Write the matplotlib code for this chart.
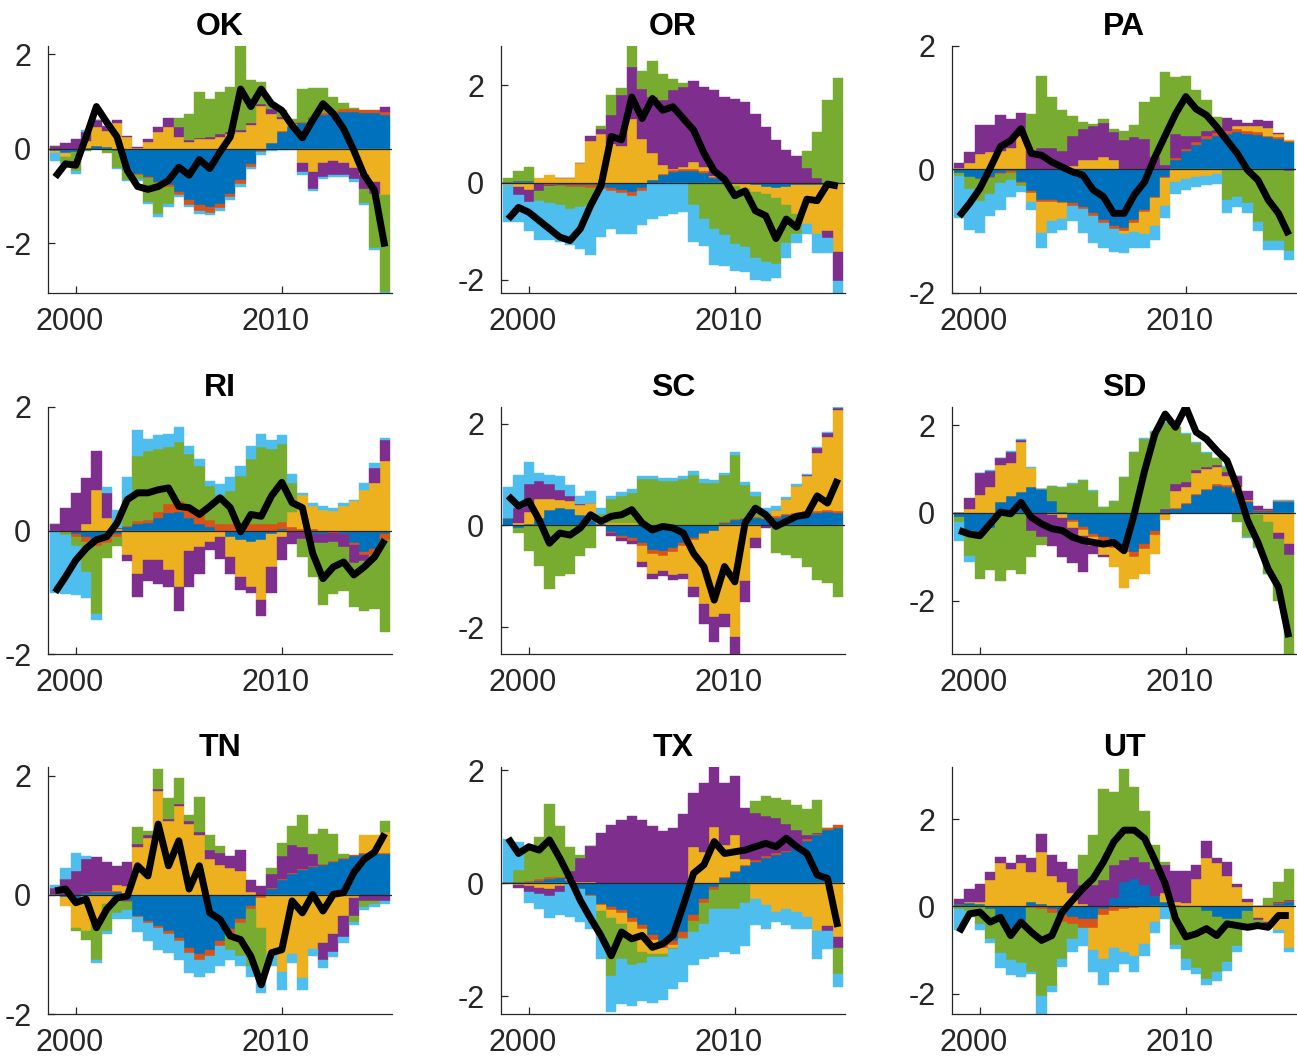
import matplotlib
matplotlib.use("Agg")
import matplotlib.pyplot as plt
from matplotlib.transforms import ScaledTranslation
import numpy as np

plt.rcParams['font.family'] = ['Liberation Sans', 'DejaVu Sans']
plt.rcParams['axes.unicode_minus'] = False

# half-yearly observations, 1999 to 2015
periods = np.arange(1999.0, 2015.01, 0.5)

# shock colours in stacking order (closest to zero first)
shock_colors = ['#0072BD', '#D95319', '#EDB120', '#7E2F8E', '#77AC30', '#4DBEEE']

# ---------------- OK ----------------
OK_blue = [-0.05, -0.10, -0.08, 0.02, 0.05, 0.03, -0.05, -0.45, -0.53, -0.60, -0.70,
           -0.77, -0.91, -1.09, -1.19, -1.23, -1.16, -0.95, -0.67, -0.32, -0.05, 0.12,
           0.35, 0.45, 0.55, 0.65, 0.72, 0.75, 0.78, 0.78, 0.76, 0.76, 0.72]
OK_red = [0.00, 0.00, 0.00, 0.00, 0.00, 0.00, 0.00, -0.01, -0.02, -0.02, -0.03,
          -0.05, -0.07, -0.10, -0.12, -0.12, -0.10, -0.08, -0.08, -0.06, -0.03, 0.01,
          0.02, 0.02, 0.02, 0.03, 0.04, 0.05, 0.05, 0.05, 0.05, 0.05, 0.05]
OK_yellow = [-0.05, -0.08, 0.00, 0.15, 0.40, 0.35, 0.55, 0.25, 0.02, 0.15, 0.35,
             0.45, 0.25, 0.15, 0.20, 0.20, 0.25, 0.30, 0.35, 0.50, 0.90, 0.60,
             0.25, 0.05, -0.30, -0.50, -0.30, -0.25, -0.30, -0.40, -0.55, -0.70, -0.98]
OK_purple = [0.05, 0.12, 0.20, 0.18, 0.15, 0.10, 0.05, 0.02, 0.02, 0.05, 0.10,
             0.20, 0.20, 0.03, 0.03, 0.05, 0.05, 0.05, 0.05, 0.05, 0.05, 0.10,
             0.05, 0.03, -0.20, -0.35, -0.30, -0.30, -0.25, -0.25, -0.30, -0.25, 0.12]
OK_green = [0.00, -0.10, -0.40, -0.05, 0.00, -0.10, -0.35, -0.20, -0.10, -0.50, -0.65,
            -0.35, 0.20, 0.55, 0.97, 0.80, 0.90, 0.95, 1.77, 0.90, 0.45, 0.13,
            0.15, 0.07, 0.70, 0.60, 0.53, 0.30, 0.13, 0.03, -0.30, -1.15, -2.05]
OK_lblue = [-0.15, -0.05, -0.05, 0.05, 0.00, 0.00, -0.02, -0.03, -0.03, -0.05, -0.06,
            -0.06, -0.05, -0.05, -0.08, -0.06, -0.06, -0.06, -0.05, -0.05, -0.05, -0.05,
            -0.03, -0.03, -0.05, -0.05, -0.04, -0.04, -0.04, -0.05, -0.05, -0.05, -0.02]
OK_total = [-0.60, -0.32, -0.35, 0.25, 0.89, 0.56, 0.25, -0.46, -0.80, -0.86, -0.80,
            -0.67, -0.39, -0.56, -0.23, -0.42, -0.07, 0.25, 1.26, 0.89, 1.26, 0.95,
            0.81, 0.49, 0.23, 0.60, 0.95, 0.74, 0.42, -0.04, -0.56, -0.88, -2.07]

# ---------------- OR ----------------
OR_blue = [0.02, 0.03, 0.03, -0.02, -0.03, -0.04, -0.05, -0.05, -0.05, -0.08, -0.12,
           -0.15, -0.20, -0.12, 0.05, 0.15, 0.22, 0.24, 0.24, 0.20, 0.10, 0.03,
           -0.02, -0.03, -0.05, -0.08, -0.12, -0.10, -0.05, -0.05, -0.05, -0.04, -0.03]
OR_red = [0.00, 0.00, 0.00, -0.01, -0.02, -0.03, -0.04, -0.05, -0.06, -0.06, -0.06,
          -0.06, -0.07, -0.05, -0.02, 0.02, 0.03, 0.03, 0.03, 0.03, 0.02, 0.00,
          0.00, 0.00, 0.00, 0.00, 0.00, 0.00, 0.00, 0.00, 0.00, 0.00, 0.00]
OR_yellow = [-0.05, -0.10, -0.15, 0.10, 0.15, 0.10, 0.10, 0.40, 0.85, 1.00, 0.80,
             0.75, 1.30, 0.90, 0.55, 0.20, 0.02, 0.05, 0.15, 0.10, 0.02, -0.02,
             -0.05, -0.10, -0.15, -0.15, -0.20, -0.35, -0.60, -0.80, -1.00, -0.95, -1.39]
OR_purple = [0.00, -0.15, -0.25, -0.15, -0.02, 0.00, 0.00, 0.00, 0.10, 0.10, 0.60,
             1.05, 1.07, 1.03, 1.16, 1.32, 1.63, 1.65, 1.67, 1.63, 1.76, 1.73,
             1.72, 1.66, 1.42, 1.15, 0.88, 0.68, 0.54, 0.30, 0.10, -0.15, -0.60]
OR_green = [0.08, 0.20, 0.30, -0.20, -0.35, -0.40, -0.45, -0.40, -0.35, 0.07, 0.40,
            0.15, 0.44, 0.37, 0.74, 0.55, 0.24, 0.07, -0.47, -0.75, -0.95, -1.05,
            -1.20, -1.20, -1.35, -1.40, -1.35, -0.80, -0.40, 0.35, 0.95, 1.70, 2.15]
OR_lblue = [-0.75, -0.55, -0.60, -0.80, -0.77, -0.75, -0.75, -0.86, -1.03, -0.98, -0.77,
            -0.84, -0.78, -0.71, -0.73, -0.68, -0.64, -0.61, -0.75, -0.55, -0.75, -0.65,
            -0.55, -0.50, -0.45, -0.40, -0.30, -0.30, -0.20, -0.20, -0.40, -0.30, -0.24]
OR_total = [-0.75, -0.51, -0.61, -0.78, -0.95, -1.12, -1.19, -0.95, -0.47, -0.07, 0.95,
            0.88, 1.76, 1.32, 1.73, 1.49, 1.56, 1.32, 1.08, 0.61, 0.24, 0.07,
            -0.27, -0.17, -0.58, -0.68, -1.15, -0.75, -0.92, -0.34, -0.37, -0.03, -0.07]

# ---------------- PA ----------------
PA_blue = [-0.05, -0.12, -0.15, -0.12, -0.05, -0.03, -0.20, -0.35, -0.50, -0.50, -0.52,
           -0.55, -0.60, -0.71, -0.82, -0.92, -0.95, -0.82, -0.66, -0.44, -0.12, 0.15,
           0.30, 0.40, 0.50, 0.55, 0.58, 0.60, 0.58, 0.56, 0.52, 0.50, 0.45]
PA_red = [0.00, 0.00, -0.01, -0.02, -0.02, -0.02, -0.02, -0.03, -0.03, -0.03, -0.03,
          -0.04, -0.04, -0.04, -0.05, -0.05, -0.05, -0.04, -0.03, -0.02, -0.02, 0.04,
          0.04, 0.04, 0.04, 0.04, 0.05, 0.05, 0.05, 0.04, 0.03, 0.02, 0.01]
PA_yellow = [0.02, 0.10, 0.25, 0.28, 0.30, 0.35, 0.55, -0.15, -0.50, -0.30, -0.25,
             0.05, 0.15, 0.15, 0.20, 0.15, -0.05, -0.15, -0.35, -0.45, -0.45, -0.20,
             -0.15, -0.12, -0.10, -0.08, 0.00, 0.05, 0.08, 0.10, 0.12, 0.05, 0.01]
PA_purple = [0.08, 0.18, 0.47, 0.44, 0.58, 0.47, 0.36, 0.30, 0.35, 0.35, 0.30,
             0.50, 0.50, 0.55, 0.55, 0.45, 0.47, 0.53, 0.50, 0.20, 0.08, 0.39,
             0.20, 0.10, 0.08, 0.05, 0.20, 0.10, 0.05, 0.10, 0.12, 0.02, -0.02]
PA_green = [-0.05, -0.20, -0.35, -0.25, -0.15, -0.12, -0.05, 0.60, 1.17, 0.82, 0.66,
            0.32, 0.12, 0.04, 0.07, 0.05, 0.16, 0.19, 0.59, 0.97, 1.50, 0.91,
            0.98, 0.74, 0.50, 0.21, -0.50, -0.45, -0.55, -0.85, -1.15, -1.15, -1.30]
PA_lblue = [-0.69, -0.66, -0.52, -0.37, -0.44, -0.27, -0.10, -0.13, -0.24, -0.20, -0.18,
            -0.25, -0.39, -0.44, -0.40, -0.36, -0.30, -0.26, -0.23, -0.23, -0.20, -0.19,
            -0.18, -0.16, -0.15, -0.15, -0.20, -0.15, -0.15, -0.15, -0.15, -0.15, -0.15]
PA_total = [-0.76, -0.55, -0.31, 0.02, 0.37, 0.47, 0.66, 0.26, 0.23, 0.12, 0.04,
            -0.04, -0.09, -0.33, -0.44, -0.71, -0.71, -0.41, -0.20, 0.20, 0.55, 0.90,
            1.18, 0.98, 0.88, 0.69, 0.47, 0.26, -0.01, -0.17, -0.49, -0.71, -1.06]

# ---------------- RI ----------------
RI_blue = [-0.01, -0.01, -0.05, -0.10, -0.15, -0.10, -0.05, 0.05, 0.10, 0.12, 0.20,
           0.28, 0.30, 0.20, 0.10, 0.05, -0.02, -0.10, -0.15, -0.18, -0.15, -0.05,
           0.03, -0.02, -0.03, -0.05, -0.05, -0.03, -0.05, -0.20, -0.35, -0.30, -0.05]
RI_red = [0.00, -0.02, -0.05, -0.08, -0.10, -0.10, -0.05, 0.02, 0.05, 0.05, 0.10,
          0.15, 0.18, 0.17, 0.15, 0.12, 0.10, 0.10, 0.10, 0.10, 0.10, 0.10,
          0.10, 0.05, 0.03, 0.02, -0.01, -0.01, -0.01, -0.03, -0.05, -0.10, -0.10]
RI_yellow = [0.00, 0.00, 0.00, 0.10, 0.65, 0.20, 0.02, -0.40, -0.70, -0.48, -0.48,
             -0.64, -0.92, -0.34, -0.26, -0.18, -0.08, -0.33, -0.60, -0.74, -0.98, -0.54,
             -0.10, 0.25, 0.55, 0.38, 0.33, 0.31, 0.39, 0.47, 0.66, 0.77, 1.13]
RI_purple = [0.10, 0.37, 0.60, 0.75, 0.64, 0.40, 0.02, -0.10, -0.38, -0.33, -0.38,
             -0.28, -0.38, -0.58, -0.44, -0.14, -0.36, -0.27, -0.22, -0.10, -0.25, -0.43,
             -0.38, -0.20, -0.10, -0.15, -0.15, -0.15, -0.20, -0.30, -0.10, 0.25, 0.33]
RI_green = [0.00, -0.05, -0.15, -0.50, -1.10, -0.25, -0.15, 0.43, 1.06, 1.12, 1.02,
            0.92, 0.95, 0.87, 0.80, 0.55, 0.48, 0.54, 0.78, 1.06, 1.25, 1.22,
            1.27, 0.47, -0.30, -0.55, -0.99, -0.84, -0.72, -0.71, -0.80, -0.87, -1.50]
RI_lblue = [-1.00, -0.95, -0.80, -0.42, -0.10, 0.10, 0.30, 0.36, 0.41, 0.19, 0.22,
            0.21, 0.24, 0.13, 0.11, 0.08, 0.17, 0.22, 0.17, 0.21, 0.21, 0.14,
            0.14, 0.14, 0.03, 0.05, 0.06, 0.06, 0.06, 0.03, 0.11, 0.08, 0.04]
RI_total = [-1.00, -0.75, -0.48, -0.29, -0.15, -0.10, 0.12, 0.50, 0.61, 0.61, 0.66,
            0.69, 0.39, 0.37, 0.26, 0.39, 0.53, 0.37, -0.02, 0.26, 0.23, 0.56,
            0.78, 0.45, 0.37, -0.37, -0.78, -0.59, -0.51, -0.72, -0.59, -0.43, -0.15]

# ---------------- SC ----------------
SC_blue = [0.15, -0.05, 0.02, 0.15, 0.30, 0.35, 0.33, 0.20, 0.10, 0.02, -0.12,
           -0.20, -0.25, -0.35, -0.48, -0.50, -0.45, -0.35, -0.25, -0.15, -0.10, 0.05,
           0.10, 0.12, 0.15, 0.12, 0.15, 0.20, 0.22, 0.25, 0.25, 0.27, 0.25]
SC_red = [0.00, 0.00, 0.00, 0.00, 0.00, 0.00, 0.00, 0.00, 0.00, -0.02, -0.03,
          -0.05, -0.06, -0.06, -0.08, -0.10, -0.08, -0.05, -0.03, -0.02, 0.00, 0.02,
          0.02, 0.02, 0.02, 0.02, 0.03, 0.03, 0.03, 0.03, 0.03, 0.03, 0.03]
SC_yellow = [0.00, 0.05, 0.25, 0.36, 0.21, 0.15, 0.15, 0.20, 0.35, 0.10, 0.05,
             0.05, 0.05, -0.30, -0.39, -0.30, -0.45, -0.55, -0.93, -1.37, -1.70, -1.74,
             -2.20, -1.10, -0.25, 0.00, 0.13, 0.28, 0.52, 0.69, 1.15, 1.43, 2.00]
SC_purple = [0.00, 0.30, 0.55, 0.36, 0.30, 0.20, 0.10, 0.03, 0.00, 0.00, -0.05,
             -0.05, -0.05, -0.10, -0.10, -0.10, -0.10, -0.10, -0.20, -0.40, -0.50, -0.25,
             -0.33, -0.40, -0.20, -0.05, 0.00, 0.00, 0.01, 0.03, 0.10, 0.08, 0.03]
SC_green = [0.00, -0.10, -0.50, -0.80, -1.25, -1.00, -0.95, -0.60, -0.45, 0.10, 0.46,
            0.53, 0.59, 0.91, 0.91, 0.87, 0.87, 0.91, 1.00, 0.84, 0.84, 0.92,
            1.27, 0.65, 0.41, 0.10, -0.55, -0.58, -0.65, -0.81, -1.08, -1.14, -1.41]
SC_lblue = [0.60, 0.65, 0.42, 0.17, 0.19, 0.27, 0.22, 0.15, 0.22, 0.13, 0.07,
            0.07, 0.07, 0.07, 0.07, 0.07, 0.07, 0.07, 0.07, 0.07, 0.05, 0.05,
            0.05, 0.07, 0.07, 0.10, 0.07, 0.05, 0.03, 0.02, 0.02, 0.02, 0.02]
SC_total = [0.58, 0.38, 0.48, 0.11, -0.35, -0.15, -0.19, -0.05, 0.21, 0.08, 0.18,
            0.21, 0.31, 0.05, -0.09, -0.02, -0.05, -0.15, -0.55, -0.81, -1.47, -0.81,
            -1.11, 0.05, 0.34, 0.21, -0.02, 0.08, 0.18, 0.21, 0.58, 0.44, 0.91]

# ---------------- SD ----------------
SD_blue = [-0.10, -0.40, -0.50, -0.35, 0.24, 0.39, 0.47, 0.58, 0.55, 0.28, 0.02,
           -0.17, -0.33, -0.48, -0.55, -0.70, -0.78, -0.90, -0.70, -0.40, 0.05, 0.10,
           0.20, 0.40, 0.52, 0.62, 0.60, 0.45, 0.25, 0.05, 0.05, 0.25, 0.25]
SD_red = [0.00, 0.00, 0.00, 0.00, 0.00, 0.00, 0.00, 0.00, 0.00, 0.00, -0.02,
          -0.03, -0.05, -0.07, -0.08, -0.10, -0.10, -0.10, -0.12, -0.10, -0.05, 0.01,
          0.02, 0.03, 0.03, 0.03, 0.04, 0.04, 0.02, 0.01, 0.01, 0.02, 0.02]
SD_yellow = [0.00, 0.10, 0.40, 0.60, 0.85, 0.75, 1.15, 0.45, 0.00, -0.05, -0.10,
             -0.15, -0.15, -0.20, -0.32, -0.44, -0.82, -0.50, -0.57, -0.43, -0.10, 0.39,
             0.38, 0.47, 0.45, 0.40, 0.20, 0.10, 0.03, -0.05, -0.20, -0.45, -0.70]
SD_purple = [0.00, 0.25, 0.50, 0.35, 0.15, 0.25, 0.05, -0.40, -0.55, -0.70, -0.88,
             -0.79, -0.82, -0.18, -0.05, 0.00, 0.00, 0.00, 0.00, 0.00, 0.05, 0.15,
             0.10, 0.08, 0.05, 0.05, 0.10, 0.25, 0.20, 0.10, 0.02, -0.15, -0.25]
SD_green = [-0.10, -0.57, -1.00, -0.96, -1.54, -1.31, -1.39, -0.60, -0.19, 0.34, 0.56,
            0.66, 0.74, 0.51, 0.13, 0.28, 0.81, 1.38, 1.68, 1.85, 1.95, 1.30,
            1.10, 0.62, 0.32, 0.15, 0.11, -0.20, -0.55, -0.73, -1.19, -1.40, -2.26]
SD_lblue = [-0.45, -0.15, 0.01, 0.02, 0.02, 0.02, 0.02, 0.02, 0.00, 0.00, 0.01,
            0.01, 0.01, 0.01, 0.00, 0.00, 0.00, 0.01, 0.02, 0.02, 0.02, 0.01,
            0.01, 0.01, 0.01, 0.01, 0.01, 0.00, -0.01, -0.01, -0.01, 0.02, 0.02]
SD_total = [-0.40, -0.48, -0.52, -0.25, 0.02, -0.02, 0.24, -0.10, -0.25, -0.36, -0.40,
            -0.55, -0.63, -0.67, -0.71, -0.67, -0.86, -0.02, 0.96, 1.80, 2.25, 1.95,
            2.41, 1.84, 1.68, 1.42, 1.19, 0.58, -0.17, -0.67, -1.28, -1.69, -2.83]

# ---------------- TN ----------------
TN_blue = [0.02, -0.03, -0.10, 0.03, 0.05, 0.05, 0.05, -0.10, -0.35, -0.44, -0.52,
           -0.61, -0.72, -0.89, -1.00, -0.92, -0.78, -0.58, -0.41, -0.19, -0.02, 0.10,
           0.25, 0.35, 0.42, 0.47, 0.50, 0.55, 0.60, 0.65, 0.68, 0.68, 0.68]
TN_red = [0.00, 0.00, 0.00, 0.01, 0.02, 0.02, 0.02, -0.01, -0.02, -0.03, -0.04,
          -0.05, -0.06, -0.08, -0.10, -0.10, -0.08, -0.07, -0.06, -0.05, -0.03, 0.01,
          0.01, 0.02, 0.02, 0.02, 0.02, 0.02, 0.02, 0.02, 0.02, 0.02, 0.02]
TN_yellow = [0.00, -0.15, -0.45, -0.60, -0.45, -0.15, 0.10, 0.15, 0.80, 0.95, 1.75,
             1.25, 1.50, 1.20, 1.00, 0.60, 0.50, 0.45, 0.40, 0.05, -0.50, -1.00,
             -1.30, -1.00, -1.40, -0.90, -0.80, -0.65, -0.35, -0.05, 0.30, 0.30, 0.35]
TN_purple = [0.10, 0.26, 0.41, 0.56, 0.56, 0.48, 0.31, 0.40, 0.05, 0.05, 0.03,
             0.03, 0.03, 0.05, 0.05, 0.15, 0.20, 0.20, 0.35, 0.20, 0.15, 0.25,
             0.40, 0.47, 0.36, 0.20, -0.30, -0.30, -0.35, -0.30, -0.10, -0.10, -0.10]
TN_green = [0.00, 0.00, -0.05, -0.15, -0.65, -0.45, -0.30, -0.15, 0.30, 0.08, 0.34,
            0.35, 0.43, 0.10, 0.60, 0.25, 0.12, -0.27, -0.55, -0.95, -0.90, 0.10,
            0.22, 0.32, 0.54, 0.34, 0.59, 0.46, 0.07, -0.10, -0.10, -0.05, 0.20]
TN_lblue = [0.05, 0.20, 0.30, 0.05, -0.05, -0.05, -0.10, -0.15, -0.25, -0.31, -0.36,
            -0.31, -0.31, -0.34, -0.27, -0.29, -0.34, -0.17, -0.18, -0.18, -0.20, -0.20,
            -0.30, -0.15, -0.20, -0.12, -0.12, -0.10, -0.10, -0.05, -0.05, -0.05, -0.05]
TN_total = [0.07, 0.10, -0.13, -0.07, -0.55, -0.24, -0.05, -0.02, 0.49, 0.32, 1.19,
            0.49, 0.91, 0.10, 0.49, -0.30, -0.41, -0.69, -0.75, -1.03, -1.51, -0.97,
            -0.92, -0.10, -0.30, 0.01, -0.27, 0.01, 0.04, 0.38, 0.60, 0.72, 1.03]

# ---------------- TX ----------------
TX_blue = [0.03, 0.03, 0.03, 0.05, 0.08, 0.10, 0.05, -0.09, -0.21, -0.36, -0.42,
           -0.47, -0.62, -0.74, -0.92, -1.07, -1.01, -0.86, -0.56, -0.27, -0.06, 0.10,
           0.20, 0.30, 0.38, 0.45, 0.50, 0.55, 0.65, 0.75, 0.85, 0.95, 0.98]
TX_red = [0.00, 0.00, 0.01, 0.02, 0.03, 0.02, 0.01, -0.01, -0.02, -0.03, -0.05,
          -0.05, -0.06, -0.07, -0.08, -0.08, -0.08, -0.10, -0.10, -0.08, -0.05, 0.02,
          0.02, 0.03, 0.03, 0.03, 0.03, 0.03, 0.03, 0.03, 0.03, 0.03, 0.05]
TX_yellow = [0.00, -0.03, -0.05, -0.08, -0.10, -0.05, 0.02, 0.02, 0.03, -0.10, -0.15,
             -0.20, -0.30, -0.40, -0.25, -0.10, -0.05, 0.00, 0.65, 0.56, 1.00, 0.56,
             0.64, 0.10, -0.27, -0.39, -0.50, -0.45, -0.50, -0.60, -0.85, -0.75, -0.95]
TX_purple = [0.00, -0.05, -0.10, -0.10, -0.12, -0.10, 0.14, 0.43, 0.63, 0.89, 1.04,
             1.13, 1.19, 1.13, 1.01, 0.92, 0.98, 1.22, 0.95, 1.22, 1.06, 1.10,
             1.04, 0.91, 0.84, 0.72, 0.62, 0.47, 0.27, 0.08, 0.02, -0.10, -0.20]
TX_green = [0.00, 0.20, 0.55, 0.75, 1.29, 0.90, 0.42, 0.05, 0.00, -0.43, -1.01,
            -0.62, -0.47, -0.19, -0.06, -0.05, -0.02, -0.02, -0.20, -0.36, -0.35, -0.45,
            -0.45, -0.35, 0.20, 0.34, 0.36, 0.43, 0.44, 0.45, 0.58, 0.00, -0.45]
TX_lblue = [0.75, 0.50, -0.20, -0.27, -0.40, -0.41, -0.59, -0.58, -0.57, -0.42, -0.65,
            -0.80, -0.72, -0.68, -0.80, -0.77, -0.71, -0.77, -0.59, -0.63, -0.85, -0.77,
            -0.80, -0.75, -0.47, -0.41, -0.18, -0.29, -0.30, -0.20, -0.49, -0.31, -0.24]
TX_total = [0.80, 0.53, 0.65, 0.59, 0.77, 0.45, 0.09, -0.30, -0.62, -0.92, -1.28,
            -0.86, -0.98, -0.92, -1.13, -1.07, -0.92, -0.39, 0.18, 0.33, 0.74, 0.53,
            0.56, 0.59, 0.65, 0.71, 0.65, 0.80, 0.65, 0.53, 0.15, 0.09, -0.77]

# ---------------- UT ----------------
UT_blue = [0.05, 0.08, 0.05, -0.05, -0.30, -0.50, -0.40, 0.10, 0.05, -0.05, -0.20,
           -0.25, -0.30, -0.30, -0.05, 0.20, 0.56, 0.64, 0.48, 0.25, 0.10, 0.02,
           -0.02, -0.02, -0.10, -0.25, -0.30, -0.30, -0.10, -0.02, 0.02, 0.05, 0.10]
UT_red = [0.00, 0.00, 0.00, 0.00, -0.02, -0.03, -0.03, -0.03, -0.05, -0.10, -0.15,
          -0.15, -0.20, -0.20, -0.15, -0.10, -0.05, -0.03, -0.01, 0.00, 0.01, 0.02,
          0.02, 0.02, 0.01, 0.00, 0.00, 0.00, 0.01, 0.02, 0.02, 0.03, 0.03]
UT_yellow = [0.00, 0.02, 0.05, 0.60, 1.00, 0.85, 1.00, 0.70, 1.20, 0.70, 0.55,
             0.30, 0.05, -0.50, -1.00, -0.85, -1.00, -1.10, -0.85, -0.35, 0.20, 0.05,
             0.05, 0.60, 1.10, 1.00, 0.70, 0.45, 0.10, -0.25, -0.35, -0.55, -0.95]
UT_purple = [0.13, 0.31, 0.42, 0.19, 0.13, 0.15, 0.17, 0.30, 0.42, 0.47, 0.47,
             0.55, 0.43, 0.50, 0.60, 0.74, 0.50, 0.49, 0.54, 0.62, 0.64, 0.72,
             0.74, 0.34, 0.38, 0.10, 0.32, 0.07, 0.05, -0.05, -0.05, 0.03, 0.02]
UT_green = [-0.05, -0.10, -0.40, -0.70, -0.75, -0.70, -0.88, -1.48, -2.00, -1.67, -0.85,
            -0.34, 0.69, 1.13, 2.10, 1.69, 2.10, 1.62, 1.18, 0.53, 0.06, -0.88,
            -1.18, -1.39, -1.56, -1.26, -0.98, -0.60, -0.34, -0.10, 0.15, 0.45, 0.70]
UT_lblue = [-0.50, -0.15, -0.15, -0.10, -0.35, -0.35, -0.30, -0.05, -0.42, -0.15, -0.20,
            -0.30, -0.40, -0.50, -0.60, -0.56, -0.27, -0.38, -0.28, -0.25, -0.30, -0.10,
            -0.25, -0.15, -0.15, -0.20, -0.20, -0.15, -0.10, -0.08, -0.08, -0.05, -0.10]
UT_total = [-0.59, -0.17, -0.13, -0.36, -0.25, -0.67, -0.36, -0.59, -0.78, -0.67, -0.13,
            0.14, 0.41, 0.64, 1.02, 1.48, 1.75, 1.75, 1.56, 1.06, 0.52, -0.28,
            -0.70, -0.63, -0.51, -0.67, -0.40, -0.44, -0.48, -0.44, -0.48, -0.21, -0.21]

states = ['OK', 'OR', 'PA', 'RI', 'SC', 'SD', 'TN', 'TX', 'UT']
shocks = {
    'OK': [OK_blue, OK_red, OK_yellow, OK_purple, OK_green, OK_lblue],
    'OR': [OR_blue, OR_red, OR_yellow, OR_purple, OR_green, OR_lblue],
    'PA': [PA_blue, PA_red, PA_yellow, PA_purple, PA_green, PA_lblue],
    'RI': [RI_blue, RI_red, RI_yellow, RI_purple, RI_green, RI_lblue],
    'SC': [SC_blue, SC_red, SC_yellow, SC_purple, SC_green, SC_lblue],
    'SD': [SD_blue, SD_red, SD_yellow, SD_purple, SD_green, SD_lblue],
    'TN': [TN_blue, TN_red, TN_yellow, TN_purple, TN_green, TN_lblue],
    'TX': [TX_blue, TX_red, TX_yellow, TX_purple, TX_green, TX_lblue],
    'UT': [UT_blue, UT_red, UT_yellow, UT_purple, UT_green, UT_lblue],
}
totals = {'OK': OK_total, 'OR': OR_total, 'PA': PA_total, 'RI': RI_total,
          'SC': SC_total, 'SD': SD_total, 'TN': TN_total, 'TX': TX_total,
          'UT': UT_total}
y_limits = {'OK': (-3.05, 2.17), 'OR': (-2.27, 2.81), 'PA': (-2.0, 2.0),
            'RI': (-2.0, 2.0), 'SC': (-2.53, 2.33), 'SD': (-3.21, 2.41),
            'TN': (-2.0, 2.15), 'TX': (-2.31, 2.06), 'UT': (-2.47, 3.2)}

axis_color = '#262626'


def draw_panel(fig, ax, name):
    pos_base = np.zeros(len(periods))
    neg_base = np.zeros(len(periods))
    for values, color in zip(shocks[name], shock_colors):
        v = np.asarray(values, dtype=float)
        base = np.where(v >= 0, pos_base, neg_base)
        ax.bar(periods, v, width=0.5, bottom=base, color=color,
               edgecolor=color, linewidth=0.3, align='center', zorder=2)
        pos_base += np.clip(v, 0, None)
        neg_base += np.clip(v, None, 0)
    ax.axhline(0, color=axis_color, lw=0.9, zorder=3)
    ax.plot(periods, totals[name], color='black', lw=5, zorder=4,
            solid_joinstyle='round', solid_capstyle='butt')

    ax.set_xlim(1998.65, 2015.35)
    ax.set_ylim(*y_limits[name])
    ax.set_xticks([2000, 2010])
    ax.set_yticks([-2, 0, 2])
    ax.set_yticklabels(['-2', '0', '2'])
    for side in ('top', 'right'):
        ax.spines[side].set_visible(False)
    for side in ('left', 'bottom'):
        ax.spines[side].set_color(axis_color)
        ax.spines[side].set_linewidth(0.9)
    ax.tick_params(direction='in', length=5, width=0.9, colors=axis_color,
                   labelsize=22)
    ax.tick_params(axis='y', pad=12)
    ax.tick_params(axis='x', pad=10)
    # year labels sit a little to the left of their ticks
    shift = ScaledTranslation(-6 / 100, 0, fig.dpi_scale_trans)
    for label in ax.get_xticklabels():
        label.set_transform(label.get_transform() + shift)
    ax.set_title(name, fontsize=23, fontweight='bold', pad=8)


fig = plt.figure(figsize=(12.97, 10.63), dpi=100)
lefts = [48 / 1297, 501 / 1297, 952 / 1297]
bottoms = [1 - 293 / 1063, 1 - 654 / 1063, 1 - 1014 / 1063]
width = 344 / 1297
height = 247 / 1063

for i, name in enumerate(states):
    row, col = divmod(i, 3)
    ax = fig.add_axes([lefts[col], bottoms[row], width, height])
    draw_panel(fig, ax, name)

fig.savefig('out.png', dpi=100)
